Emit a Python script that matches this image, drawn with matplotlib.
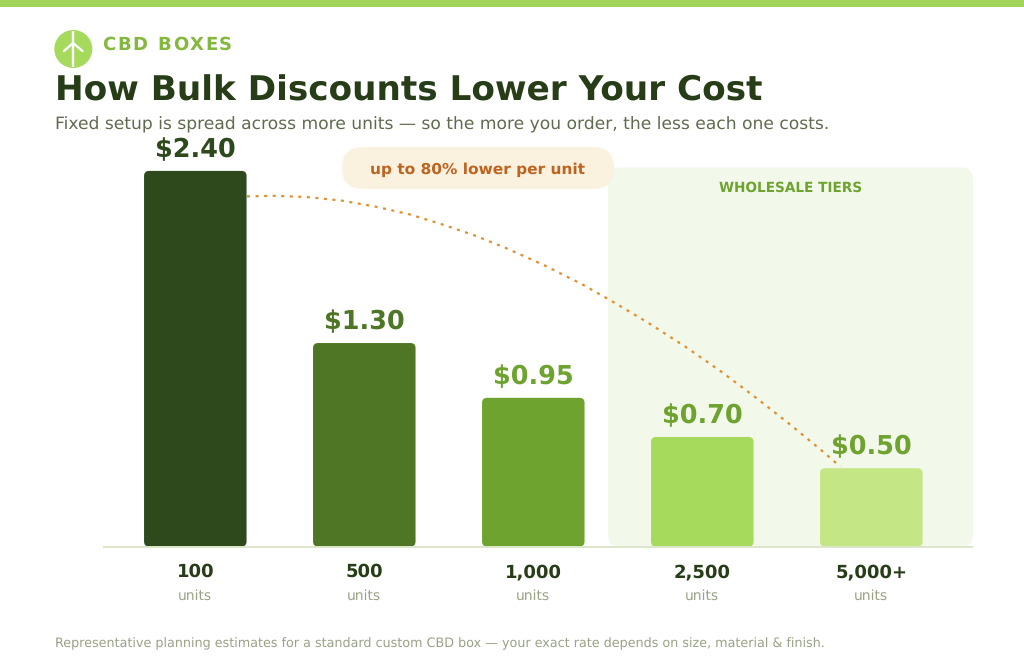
import matplotlib
matplotlib.use('Agg')
import matplotlib.pyplot as plt
from matplotlib.font_manager import FontProperties
from matplotlib.patches import FancyBboxPatch, Circle, Rectangle
from matplotlib.textpath import TextToPath

plt.rcParams['text.hinting'] = 'none'

# values
tiers       = ['100', '500', '1,000', '2,500', '5,000+']
prices      = [2.40, 1.30, 0.95, 0.70, 0.50]
bar_colors  = ['#2E4A1C', '#4F7624', '#6EA32F', '#A6DA5C', '#C4E684']
val_colors  = ['#2E4A1C', '#4F7624', '#6EA32F', '#6EA32F', '#6EA32F']
# trend line, x in tier index, y in price
trend_x = [0.306, 0.463, 0.661, 0.868, 1.065, 1.262, 1.456, 1.647, 1.834, 2.061,
           2.288, 2.466, 2.682, 2.895, 3.101, 3.304, 3.505, 3.698, 3.817]
trend_y = [2.237, 2.241, 2.233, 2.210, 2.172, 2.124, 2.060, 1.990, 1.909, 1.799,
           1.676, 1.567, 1.428, 1.280, 1.126, 0.962, 0.792, 0.621, 0.510]

W, H = 1024, 666
fig = plt.figure(figsize=(W / 100, H / 100), dpi=100, facecolor='white')

# pixel canvas for everything around the bars
bg = fig.add_axes([0, 0, 1, 1], zorder=0)
bg.set_xlim(0, W)
bg.set_ylim(H, 0)
bg.axis('off')

bg.add_patch(Rectangle((0, 0), W, 7, fc='#A3D45A', ec='none'))

# logo
bg.add_patch(Circle((73.3, 49), 19, fc='#A6DA5C', ec='none'))
bg.plot([73, 73], [31, 67], color='white', lw=1.7, solid_capstyle='butt')
bg.plot([64, 73, 82.5], [51, 43, 51], color='white', lw=1.7, solid_capstyle='round')


def spaced(x, y, s, space, size, **kw):
    # letter spacing by hand, matplotlib has none
    prop = FontProperties(size=size, weight='bold')
    ttp = TextToPath()
    bar = ttp.get_text_width_height_descent('|', prop, False)[0]
    for i, ch in enumerate(s):
        adv = ttp.get_text_width_height_descent(s[:i] + '|', prop, False)[0] - bar
        adv = adv * 100 / 72
        bg.text(x + adv + i * space, y, ch, fontproperties=prop, va='baseline', **kw)


spaced(102.3, 49.5, 'CBD BOXES', 1.7, 13, color='#84B83E')
bg.text(55, 101, 'How Bulk Discounts Lower Your Cost', fontsize=24.67, fontweight='bold',
        color='#263D17', va='baseline')
bg.text(55, 129.5, 'Fixed setup is spread across more units \u2014 so the more you order, the less each one costs.',
        fontsize=12.33, color='#5F6B4E', va='baseline')

# wholesale panel and callout
bg.add_patch(FancyBboxPatch((608, 167.5), 365, 379, boxstyle='round,pad=0,rounding_size=12',
                            fc='#F2F8EA', ec='none'))
bg.text(790.5, 191.5, 'WHOLESALE TIERS', fontsize=9.8, fontweight='bold', color='#6EA32F',
        ha='center', va='baseline')
bg.add_patch(FancyBboxPatch((342, 147), 272, 42, boxstyle='round,pad=0,rounding_size=21',
                            fc='#FBF1DF', ec='none'))
bg.text(477.5, 174, 'up to 80% lower per unit', fontsize=11.1, fontweight='bold', color='#BC6420',
        ha='center', va='baseline')
bg.text(55, 647, 'Representative planning estimates for a standard custom CBD box \u2014 your exact rate depends on size, material & finish.',
        fontsize=9.2, color='#98A285', va='baseline')

# bars, 169 px per tier, 156.5 px per dollar
ax = fig.add_axes([102.5 / W, (H - 546.5) / H, 870.5 / W, 400 / H], zorder=1)
ax.patch.set_alpha(0)
ax.set_xlim((102.5 - 195.3) / 169, (973 - 195.3) / 169)
ax.set_ylim(0, 400 / 156.5)
for s in ['top', 'left', 'right']:
    ax.spines[s].set_visible(False)
ax.spines['bottom'].set_color('#DCE6C9')
ax.spines['bottom'].set_linewidth(1.4)
ax.spines['bottom'].set_capstyle('butt')
ax.set_xticks([])
ax.set_yticks([])

bar_w = 102.5 / 169
for i, (t, p) in enumerate(zip(tiers, prices)):
    ax.add_patch(FancyBboxPatch((i - bar_w / 2, 0), bar_w, p,
                                boxstyle='round,pad=0,rounding_size=%f' % (5 / 169),
                                mutation_aspect=169 / 156.5,
                                fc=bar_colors[i], ec='none', zorder=2))
    ax.annotate('$%.2f' % p, (i, p), xytext=(0, 10), textcoords='offset points', ha='center',
                va='baseline', fontsize=18.4, fontweight='bold', color=val_colors[i],
                annotation_clip=False, zorder=5)
    ax.annotate(t, (i, 0), xytext=(0, -22), textcoords='offset points', ha='center', va='baseline',
                fontsize=13, fontweight='bold', color='#263D17', annotation_clip=False)
    ax.annotate('units', (i, 0), xytext=(0, -38.2), textcoords='offset points', ha='center', va='baseline',
                fontsize=10, color='#98A285', annotation_clip=False)

ax.plot(trend_x, trend_y, color='#DE8F2E', lw=1.6, linestyle=(0, (1.35, 2.5)),
        dash_capstyle='butt', zorder=3)

fig.savefig('out.png', dpi=100)
